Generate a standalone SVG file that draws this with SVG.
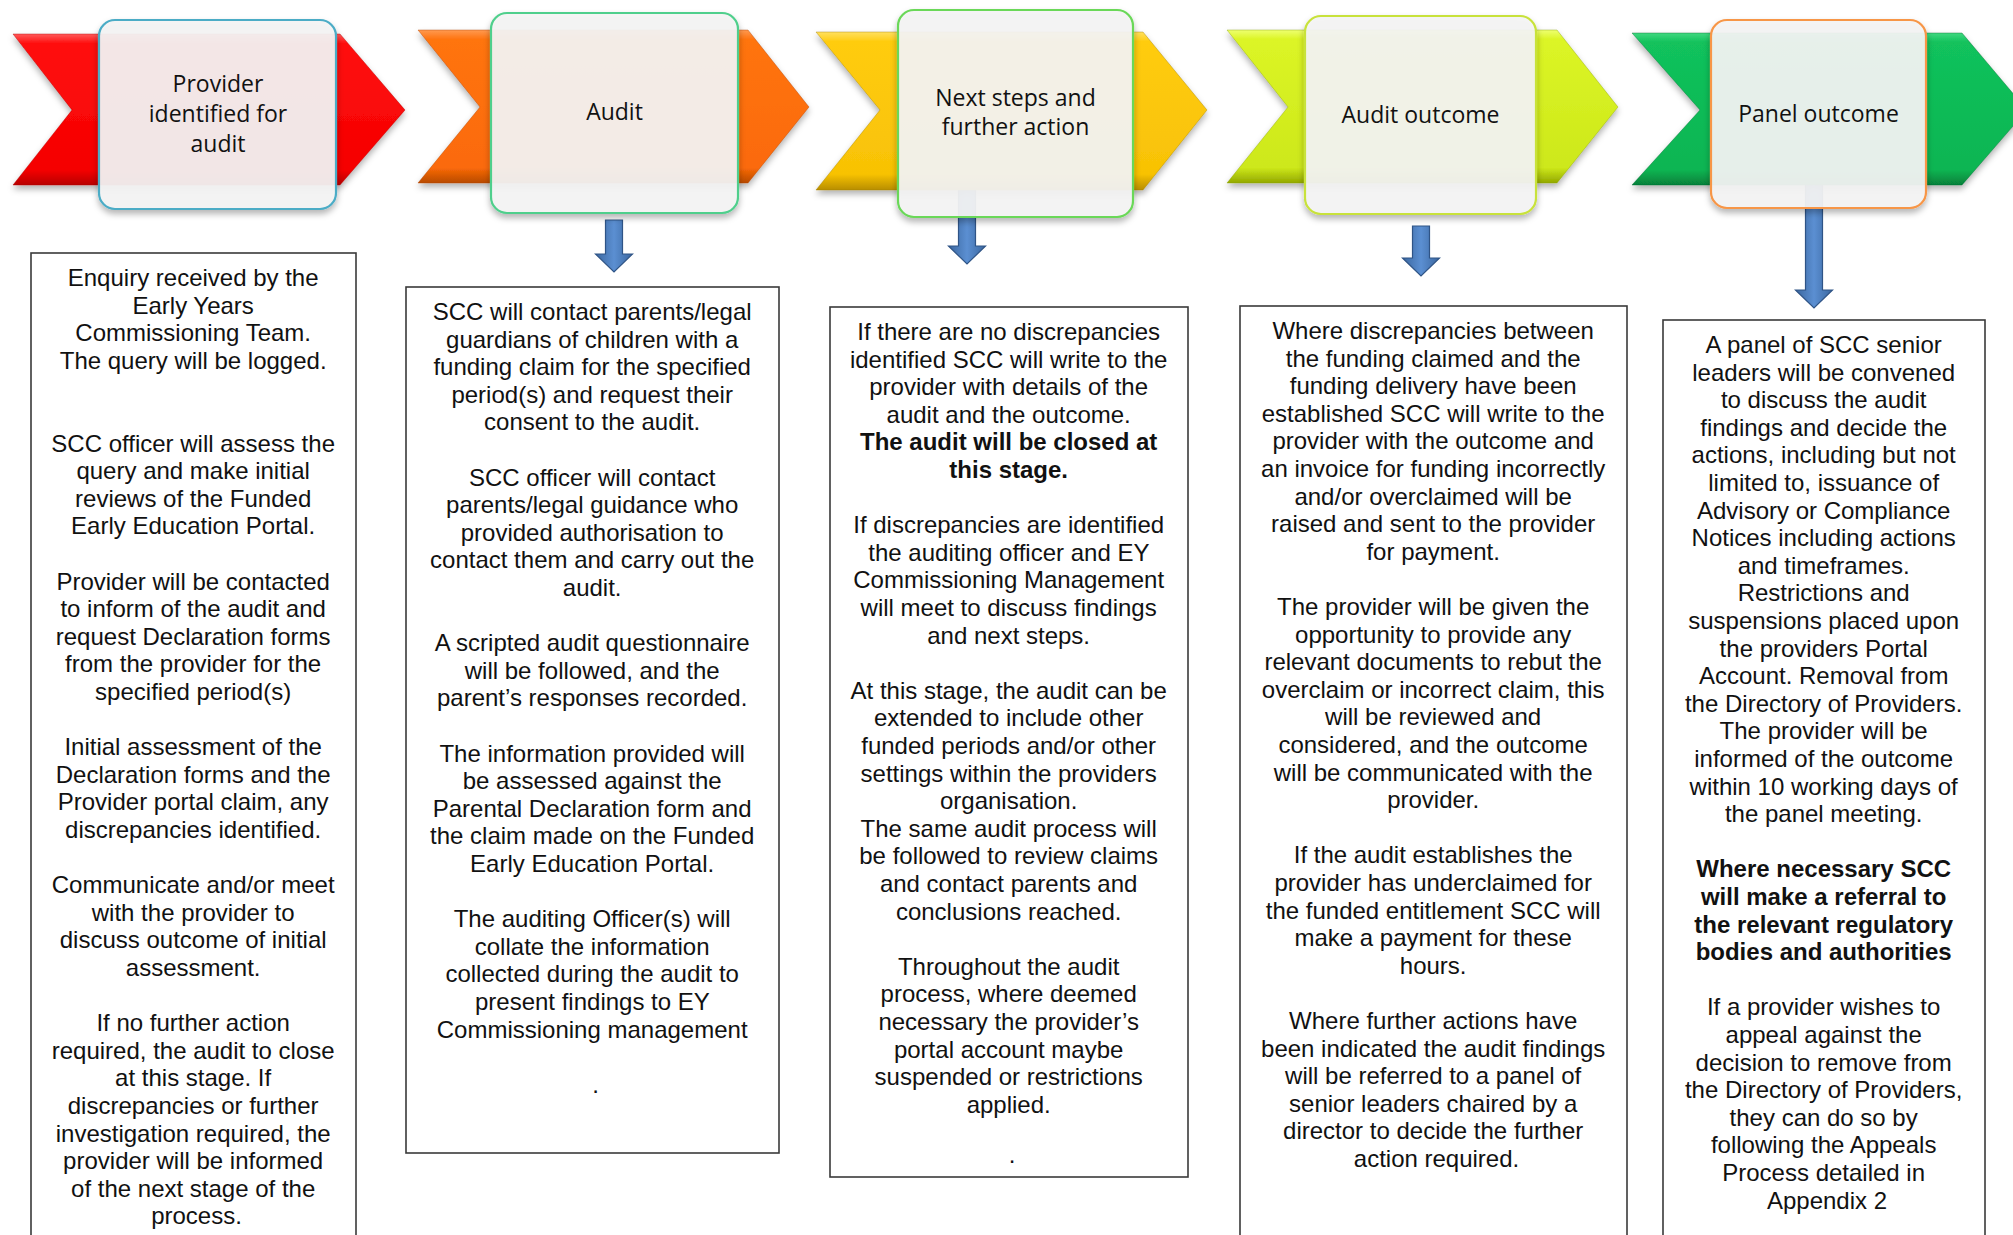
<svg xmlns="http://www.w3.org/2000/svg" width="2013" height="1235" viewBox="0 0 2013 1235">
<defs>
<style>
.hdr{font-family:"Open Sans","Noto Sans",sans-serif;font-size:23px;fill:#111;text-anchor:middle}
.txt{font-family:"Liberation Sans",Arial,sans-serif;font-size:24px;fill:#111;text-anchor:middle}
.b{font-weight:bold}
.panel{fill:#fff;stroke:#3a3a3a;stroke-width:1.6}
.box{fill:#f4f4f4;fill-opacity:0.93;stroke-width:2.2}
.arr{fill:url(#gArr);stroke:#2f5486;stroke-width:1.2}
</style>
<filter id="sh" x="-10%" y="-10%" width="120%" height="130%">
<feDropShadow dx="0" dy="4" stdDeviation="3" flood-color="#000" flood-opacity="0.3"/>
</filter>
<linearGradient id="gArr" x1="0" y1="0" x2="1" y2="0">
<stop offset="0" stop-color="#3b679f"/><stop offset="0.5" stop-color="#5b8fd2"/><stop offset="1" stop-color="#3b679f"/>
</linearGradient>
<linearGradient id="gRed" x1="0" y1="0" x2="0" y2="1">
<stop offset="0" stop-color="#ff5a5a"/><stop offset="0.06" stop-color="#ff1010"/><stop offset="0.9" stop-color="#f50000"/><stop offset="1" stop-color="#b80000"/>
</linearGradient>
<linearGradient id="gOra" x1="0" y1="0" x2="0" y2="1">
<stop offset="0" stop-color="#ff9a50"/><stop offset="0.06" stop-color="#ff7410"/><stop offset="0.9" stop-color="#fb6a08"/><stop offset="1" stop-color="#b84a00"/>
</linearGradient>
<linearGradient id="gYel" x1="0" y1="0" x2="0" y2="1">
<stop offset="0" stop-color="#ffe060"/><stop offset="0.06" stop-color="#ffcc10"/><stop offset="0.9" stop-color="#f8c205"/><stop offset="1" stop-color="#b88e00"/>
</linearGradient>
<linearGradient id="gLim" x1="0" y1="0" x2="0" y2="1">
<stop offset="0" stop-color="#eeff70"/><stop offset="0.06" stop-color="#dcf526"/><stop offset="0.9" stop-color="#cde81a"/><stop offset="1" stop-color="#93a800"/>
</linearGradient>
<linearGradient id="gGrn" x1="0" y1="0" x2="0" y2="1">
<stop offset="0" stop-color="#40d880"/><stop offset="0.06" stop-color="#12c25c"/><stop offset="0.9" stop-color="#0ab552"/><stop offset="1" stop-color="#06803a"/>
</linearGradient>
</defs>
<rect width="2013" height="1235" fill="#fff"/>

<g id="connectors">
<path class="arr" d="M605.5,220 H622.5 V254 H632.5 L614,272 L595.5,254 H605.5 Z"/>
<path class="arr" d="M958.5,190 H975.5 V246 H985.5 L967,264 L948.5,246 H958.5 Z"/>
<path class="arr" d="M1412.5,226 H1429.5 V258 H1439.5 L1421,276 L1402.5,258 H1412.5 Z"/>
<path class="arr" d="M1805.5,183 H1822.5 V290 H1832.5 L1814,308 L1795.5,290 H1805.5 Z"/>
</g>

<g id="stage1">
<polygon points="13,34 340,34 405,110 340,185 13,185 72,110" fill="url(#gRed)" stroke="#b00000" stroke-opacity="0.4" filter="url(#sh)"/>
<rect class="box" x="99" y="20" width="237" height="189" rx="16" stroke="#4bacc6" filter="url(#sh)"/>
<text class="hdr"><tspan x="218" y="92">Provider</tspan><tspan x="218" y="122">identified for</tspan><tspan x="218" y="152">audit</tspan></text>
</g>

<g id="stage2">
<polygon points="418,30 748,30 809,107 748,183 418,183 480,107" fill="url(#gOra)" stroke="#b04000" stroke-opacity="0.4" filter="url(#sh)"/>
<rect class="box" x="491" y="13" width="247" height="200" rx="16" stroke="#4fcf8c" filter="url(#sh)"/>
<text class="hdr" x="614.5" y="120">Audit</text>
</g>

<g id="stage3">
<polygon points="816,32 1143,32 1207,110 1143,190 816,190 880,110" fill="url(#gYel)" stroke="#a08000" stroke-opacity="0.4" filter="url(#sh)"/>
<rect class="box" x="898" y="10" width="235" height="207" rx="16" stroke="#6ad858" filter="url(#sh)"/>
<text class="hdr"><tspan x="1015.5" y="106">Next steps and</tspan><tspan x="1015.5" y="135">further action</tspan></text>
</g>

<g id="stage4">
<polygon points="1227,30 1557,30 1618,107 1557,183 1227,183 1288,107" fill="url(#gLim)" stroke="#88a000" stroke-opacity="0.4" filter="url(#sh)"/>
<rect class="box" x="1305" y="16" width="231" height="198" rx="16" stroke="#c8e23a" filter="url(#sh)"/>
<text class="hdr" x="1420.5" y="123">Audit outcome</text>
</g>

<g id="stage5">
<polygon points="1632,33 1962,33 2027,110 1962,185 1632,185 1700,110" fill="url(#gGrn)" stroke="#006a30" stroke-opacity="0.4" filter="url(#sh)"/>
<rect class="box" x="1711" y="20" width="215" height="188" rx="16" stroke="#f79646" filter="url(#sh)"/>
<text class="hdr" x="1818.5" y="122">Panel outcome</text>
</g>

<g id="panel1">
<rect class="panel" x="31" y="253" width="325" height="1000"/>
<text class="txt">
<tspan x="196.5" y="286">Enquiry received by the</tspan>
<tspan x="196.5" y="313.6">Early Years</tspan>
<tspan x="196.5" y="341.2">Commissioning Team.</tspan>
<tspan x="196.5" y="368.8">The query will be logged.</tspan>
<tspan x="196.5" y="451.6">SCC officer will assess the</tspan>
<tspan x="196.5" y="479.2">query and make initial</tspan>
<tspan x="196.5" y="506.8">reviews of the Funded</tspan>
<tspan x="196.5" y="534.4">Early Education Portal.</tspan>
<tspan x="196.5" y="589.6">Provider will be contacted</tspan>
<tspan x="196.5" y="617.2">to inform of the audit and</tspan>
<tspan x="196.5" y="644.8">request Declaration forms</tspan>
<tspan x="196.5" y="672.4">from the provider for the</tspan>
<tspan x="196.5" y="700">specified period(s)</tspan>
<tspan x="196.5" y="755.2">Initial assessment of the</tspan>
<tspan x="196.5" y="782.8">Declaration forms and the</tspan>
<tspan x="196.5" y="810.4">Provider portal claim, any</tspan>
<tspan x="196.5" y="838">discrepancies identified.</tspan>
<tspan x="196.5" y="893.2">Communicate and/or meet</tspan>
<tspan x="196.5" y="920.8">with the provider to</tspan>
<tspan x="196.5" y="948.4">discuss outcome of initial</tspan>
<tspan x="196.5" y="976">assessment.</tspan>
<tspan x="196.5" y="1031.2">If no further action</tspan>
<tspan x="196.5" y="1058.8">required, the audit to close</tspan>
<tspan x="196.5" y="1086.4">at this stage. If</tspan>
<tspan x="196.5" y="1114">discrepancies or further</tspan>
<tspan x="196.5" y="1141.6">investigation required, the</tspan>
<tspan x="196.5" y="1169.2">provider will be informed</tspan>
<tspan x="196.5" y="1196.8">of the next stage of the</tspan>
<tspan x="196.5" y="1224.4">process.</tspan>
</text>
</g>

<g id="panel2">
<rect class="panel" x="406" y="287" width="373" height="866"/>
<text class="txt">
<tspan x="595.5" y="320">SCC will contact parents/legal</tspan>
<tspan x="595.5" y="347.6">guardians of children with a</tspan>
<tspan x="595.5" y="375.2">funding claim for the specified</tspan>
<tspan x="595.5" y="402.8">period(s) and request their</tspan>
<tspan x="595.5" y="430.4">consent to the audit.</tspan>
<tspan x="595.5" y="485.6">SCC officer will contact</tspan>
<tspan x="595.5" y="513.2">parents/legal guidance who</tspan>
<tspan x="595.5" y="540.8">provided authorisation to</tspan>
<tspan x="595.5" y="568.4">contact them and carry out the</tspan>
<tspan x="595.5" y="596">audit.</tspan>
<tspan x="595.5" y="651.2">A scripted audit questionnaire</tspan>
<tspan x="595.5" y="678.8">will be followed, and the</tspan>
<tspan x="595.5" y="706.4">parent’s responses recorded.</tspan>
<tspan x="595.5" y="761.6">The information provided will</tspan>
<tspan x="595.5" y="789.2">be assessed against the</tspan>
<tspan x="595.5" y="816.8">Parental Declaration form and</tspan>
<tspan x="595.5" y="844.4">the claim made on the Funded</tspan>
<tspan x="595.5" y="872">Early Education Portal.</tspan>
<tspan x="595.5" y="927.2">The auditing Officer(s) will</tspan>
<tspan x="595.5" y="954.8">collate the information</tspan>
<tspan x="595.5" y="982.4">collected during the audit to</tspan>
<tspan x="595.5" y="1010">present findings to EY</tspan>
<tspan x="595.5" y="1037.6">Commissioning management</tspan>
<tspan x="595.5" y="1092.8">.</tspan>
</text>
</g>

<g id="panel3">
<rect class="panel" x="830" y="307" width="358" height="870"/>
<text class="txt">
<tspan x="1012" y="340">If there are no discrepancies</tspan>
<tspan x="1012" y="367.6">identified SCC will write to the</tspan>
<tspan x="1012" y="395.2">provider with details of the</tspan>
<tspan x="1012" y="422.8">audit and the outcome.</tspan>
<tspan class="b" x="1012" y="450.4">The audit will be closed at</tspan>
<tspan class="b" x="1012" y="478">this stage.</tspan>
<tspan x="1012" y="533.2">If discrepancies are identified</tspan>
<tspan x="1012" y="560.8">the auditing officer and EY</tspan>
<tspan x="1012" y="588.4">Commissioning Management</tspan>
<tspan x="1012" y="616">will meet to discuss findings</tspan>
<tspan x="1012" y="643.6">and next steps.</tspan>
<tspan x="1012" y="698.8">At this stage, the audit can be</tspan>
<tspan x="1012" y="726.4">extended to include other</tspan>
<tspan x="1012" y="754">funded periods and/or other</tspan>
<tspan x="1012" y="781.6">settings within the providers</tspan>
<tspan x="1012" y="809.2">organisation.</tspan>
<tspan x="1012" y="836.8">The same audit process will</tspan>
<tspan x="1012" y="864.4">be followed to review claims</tspan>
<tspan x="1012" y="892">and contact parents and</tspan>
<tspan x="1012" y="919.6">conclusions reached.</tspan>
<tspan x="1012" y="974.8">Throughout the audit</tspan>
<tspan x="1012" y="1002.4">process, where deemed</tspan>
<tspan x="1012" y="1030">necessary the provider’s</tspan>
<tspan x="1012" y="1057.6">portal account maybe</tspan>
<tspan x="1012" y="1085.2">suspended or restrictions</tspan>
<tspan x="1012" y="1112.8">applied.</tspan>
<tspan x="1012" y="1163">.</tspan>
</text>
</g>

<g id="panel4">
<rect class="panel" x="1240" y="306" width="387" height="950"/>
<text class="txt">
<tspan x="1436.5" y="339">Where discrepancies between</tspan>
<tspan x="1436.5" y="366.6">the funding claimed and the</tspan>
<tspan x="1436.5" y="394.2">funding delivery have been</tspan>
<tspan x="1436.5" y="421.8">established SCC will write to the</tspan>
<tspan x="1436.5" y="449.4">provider with the outcome and</tspan>
<tspan x="1436.5" y="477">an invoice for funding incorrectly</tspan>
<tspan x="1436.5" y="504.6">and/or overclaimed will be</tspan>
<tspan x="1436.5" y="532.2">raised and sent to the provider</tspan>
<tspan x="1436.5" y="559.8">for payment.</tspan>
<tspan x="1436.5" y="615">The provider will be given the</tspan>
<tspan x="1436.5" y="642.6">opportunity to provide any</tspan>
<tspan x="1436.5" y="670.2">relevant documents to rebut the</tspan>
<tspan x="1436.5" y="697.8">overclaim or incorrect claim, this</tspan>
<tspan x="1436.5" y="725.4">will be reviewed and</tspan>
<tspan x="1436.5" y="753">considered, and the outcome</tspan>
<tspan x="1436.5" y="780.6">will be communicated with the</tspan>
<tspan x="1436.5" y="808.2">provider.</tspan>
<tspan x="1436.5" y="863.4">If the audit establishes the</tspan>
<tspan x="1436.5" y="891">provider has underclaimed for</tspan>
<tspan x="1436.5" y="918.6">the funded entitlement SCC will</tspan>
<tspan x="1436.5" y="946.2">make a payment for these</tspan>
<tspan x="1436.5" y="973.8">hours.</tspan>
<tspan x="1436.5" y="1029">Where further actions have</tspan>
<tspan x="1436.5" y="1056.6">been indicated the audit findings</tspan>
<tspan x="1436.5" y="1084.2">will be referred to a panel of</tspan>
<tspan x="1436.5" y="1111.8">senior leaders chaired by a</tspan>
<tspan x="1436.5" y="1139.4">director to decide the further</tspan>
<tspan x="1436.5" y="1167">action required.</tspan>
</text>
</g>

<g id="panel5">
<rect class="panel" x="1663" y="320" width="322" height="950"/>
<text class="txt">
<tspan x="1827" y="353">A panel of SCC senior</tspan>
<tspan x="1827" y="380.6">leaders will be convened</tspan>
<tspan x="1827" y="408.2">to discuss the audit</tspan>
<tspan x="1827" y="435.8">findings and decide the</tspan>
<tspan x="1827" y="463.4">actions, including but not</tspan>
<tspan x="1827" y="491">limited to, issuance of</tspan>
<tspan x="1827" y="518.6">Advisory or Compliance</tspan>
<tspan x="1827" y="546.2">Notices including actions</tspan>
<tspan x="1827" y="573.8">and timeframes.</tspan>
<tspan x="1827" y="601.4">Restrictions and</tspan>
<tspan x="1827" y="629">suspensions placed upon</tspan>
<tspan x="1827" y="656.6">the providers Portal</tspan>
<tspan x="1827" y="684.2">Account. Removal from</tspan>
<tspan x="1827" y="711.8">the Directory of Providers.</tspan>
<tspan x="1827" y="739.4">The provider will be</tspan>
<tspan x="1827" y="767">informed of the outcome</tspan>
<tspan x="1827" y="794.6">within 10 working days of</tspan>
<tspan x="1827" y="822.2">the panel meeting.</tspan>
<tspan class="b" x="1827" y="877.4">Where necessary SCC</tspan>
<tspan class="b" x="1827" y="905">will make a referral to</tspan>
<tspan class="b" x="1827" y="932.6">the relevant regulatory</tspan>
<tspan class="b" x="1827" y="960.2">bodies and authorities</tspan>
<tspan x="1827" y="1015.4">If a provider wishes to</tspan>
<tspan x="1827" y="1043">appeal against the</tspan>
<tspan x="1827" y="1070.6">decision to remove from</tspan>
<tspan x="1827" y="1098.2">the Directory of Providers,</tspan>
<tspan x="1827" y="1125.8">they can do so by</tspan>
<tspan x="1827" y="1153.4">following the Appeals</tspan>
<tspan x="1827" y="1181">Process detailed in</tspan>
<tspan x="1827" y="1208.6">Appendix 2</tspan>
</text>
</g>
</svg>
